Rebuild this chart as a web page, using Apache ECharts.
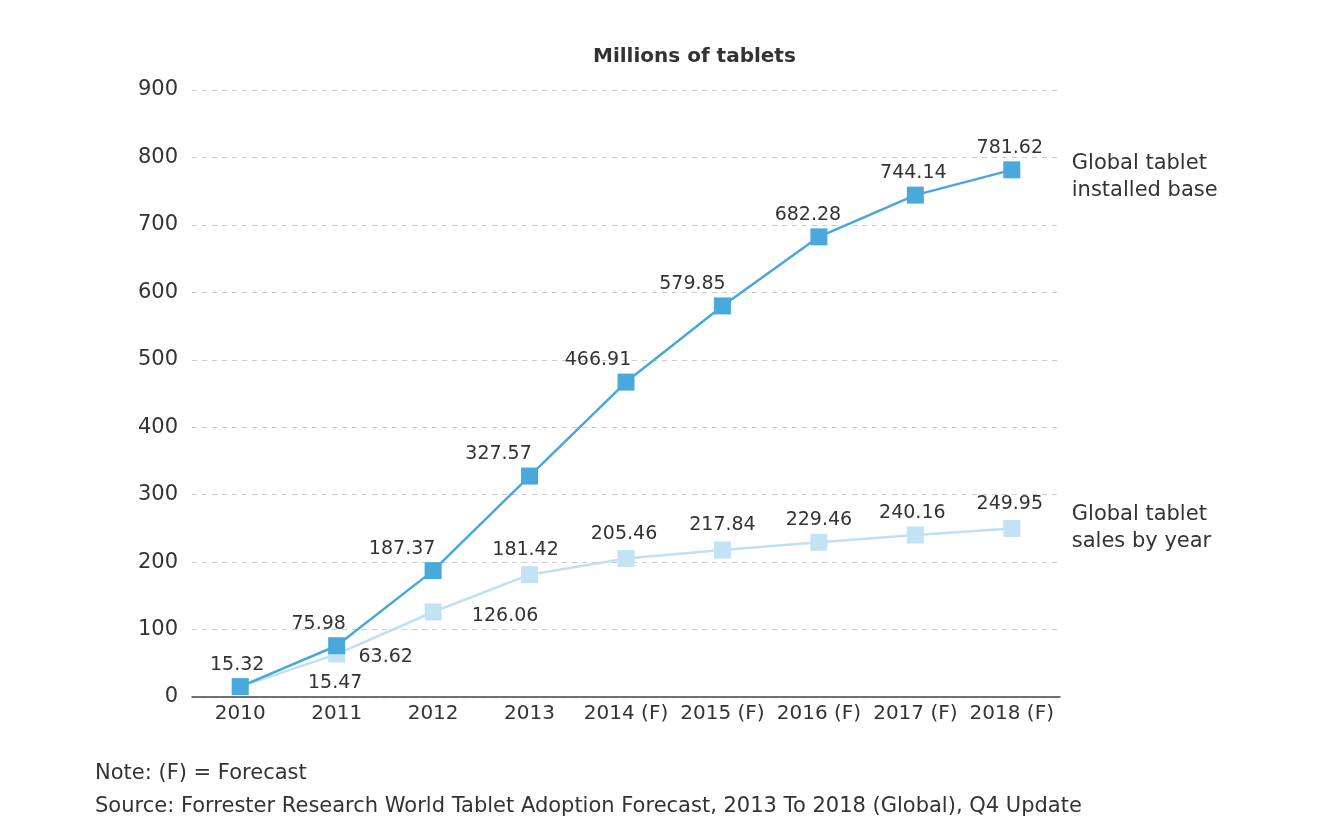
<!DOCTYPE html>
<html>
<head>
<meta charset="utf-8">
<script src="https://cdn.jsdelivr.net/npm/echarts@6/dist/echarts.min.js"></script>
<style>
html,body{margin:0;padding:0;background:#fff;}
#main{width:1324px;height:827px;}
</style>
</head>
<body>
<div id="main"></div>
<script>
var years = ['2010','2011','2012','2013','2014 (F)','2015 (F)','2016 (F)','2017 (F)','2018 (F)'];
var installedBase = [15.32,75.98,187.37,327.57,466.91,579.85,682.28,744.14,781.62];
var salesByYear = [15.47,63.62,126.06,181.42,205.46,217.84,229.46,240.16,249.95];
var yTicks = [0,100,200,300,400,500,600,700,800,900];

// label offsets [dx, dy] for each point (relative to 'top')
var baseOffsets = [[-3,0],[-18,0],[-31,0],[-31,0],[-28,0],[-30,0],[-11,0],[-2,0],[-2,0]];
var salesOffsets = [[95,18],[49,25],[72,26],[-4,-3],[-2,-2],[0,-3],[0,0],[-3,0],[-2,-2]];

var dom = document.getElementById('main');
var myChart = echarts.init(dom);
var font = 'DejaVu Sans, Liberation Sans, sans-serif';

function build(vals, offs){
    var out = [];
    for(var i = 0; i < vals.length; i++){
        out.push({value: vals[i], label: {offset: offs[i]}});
    }
    return out;
}

myChart.setOption({
    animation:false,
    backgroundColor:'#fff',
    textStyle:{fontFamily:font},
    title:[
        {text:'Millions of tablets',left:588,top:42,textStyle:{fontSize:20,fontWeight:'bold',color:'#333',fontFamily:font}},
        {text:'Note: (F) = Forecast',left:90,top:758,textStyle:{fontSize:21,fontWeight:'normal',color:'#333',fontFamily:font}},
        {text:'Source: Forrester Research World Tablet Adoption Forecast, 2013 To 2018 (Global), Q4 Update',left:90,top:791,textStyle:{fontSize:21,fontWeight:'normal',color:'#333',fontFamily:font}}
    ],
    grid:{left:192,right:264,top:90,bottom:130,containLabel:false},
    xAxis:{
        type:'category',data:years,boundaryGap:true,
        axisLine:{lineStyle:{color:'#444',width:1.5}},
        axisTick:{show:false},
        axisLabel:{color:'#333',fontSize:20,margin:7,interval:0}
    },
    yAxis:{
        type:'value',min:yTicks[0],max:yTicks[yTicks.length-1],interval:100,
        axisLine:{show:false},axisTick:{show:false},
        axisLabel:{color:'#333',fontSize:21,margin:14},
        splitLine:{lineStyle:{color:'#ccc',type:[5,5],width:1}}
    },
    series:[
        {
            name:'Global tablet sales by year',type:'line',data:build(salesByYear,salesOffsets),
            symbol:'rect',symbolSize:17,z:2,
            lineStyle:{color:'#bfe0f2',width:2.5},
            itemStyle:{color:'#c3e2f3'},
            label:{show:true,position:'top',distance:4,color:'#333',fontSize:19},
            endLabel:{show:true,formatter:'Global tablet\nsales by year',distance:60,color:'#333',fontSize:21,lineHeight:27,offset:[0,0]}
        },
        {
            name:'Global tablet installed base',type:'line',data:build(installedBase,baseOffsets),
            symbol:'rect',symbolSize:17,z:3,
            lineStyle:{color:'#49a7d9',width:2.5},
            itemStyle:{color:'#4aa9dc'},
            label:{show:true,position:'top',distance:4,color:'#333',fontSize:19},
            endLabel:{show:true,formatter:'Global tablet\ninstalled base',distance:60,color:'#333',fontSize:21,lineHeight:27,offset:[0,7]}
        }
    ]
});
</script>
</body>
</html>
